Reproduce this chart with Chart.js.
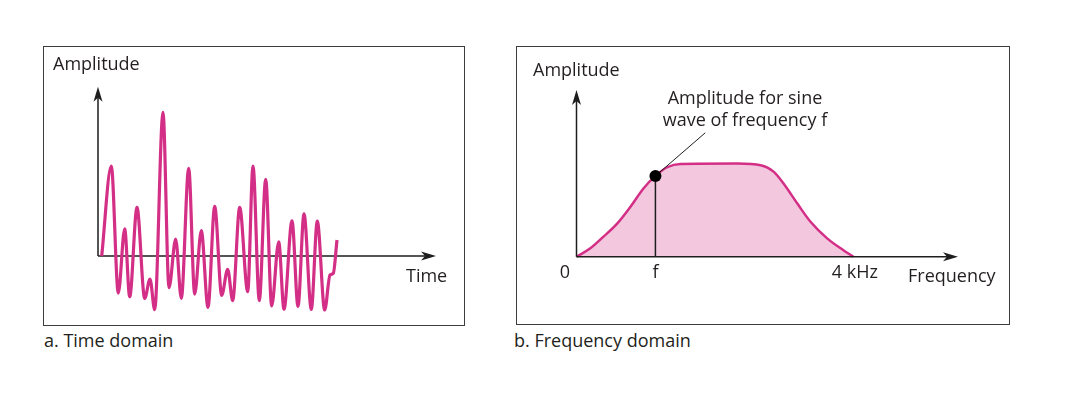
<!DOCTYPE html>
<html>
<head>
<meta charset="utf-8">
<script src="https://cdn.jsdelivr.net/npm/chart.js@4.4.1/dist/chart.umd.min.js"></script>
<style>
  html, body { margin: 0; padding: 0; background: #fff; }
  body { width: 1070px; height: 396px; position: relative; overflow: hidden;
         font-family: "Open Sans", sans-serif; color: #231f20; }
  .box { position: absolute; border: 1.5px solid #3d3d3d; box-sizing: border-box; }
  canvas { position: absolute; }
  .lbl { position: absolute; font-size: 18px; line-height: 20px; white-space: nowrap; }
  .tick { position: absolute; font-size: 18px; line-height: 20px; white-space: nowrap; transform: translateX(-50%); }
  .note { position: absolute; font-size: 18px; line-height: 22.4px; text-align: center; white-space: nowrap; transform: translateX(-50%); }
</style>
</head>
<body>
<div class="box" style="left:43px;top:46px;width:422px;height:280px"></div>
<div class="box" style="left:516px;top:46px;width:494px;height:279px"></div>
<canvas id="time-chart" width="418" height="276" style="left:45px;top:48px"></canvas>
<canvas id="freq-chart" width="490" height="275" style="left:518px;top:48px"></canvas>

<div class="lbl" style="left:53px;top:53px">Amplitude</div>
<div class="lbl" style="left:406px;top:264.7px">Time</div>
<div class="lbl" style="left:44px;top:330px">a. Time domain</div>

<div class="lbl" style="left:533px;top:59px">Amplitude</div>
<div class="lbl" style="left:908px;top:264.7px">Frequency</div>
<div class="lbl" style="left:514px;top:330px">b. Frequency domain</div>
<div class="note" id="note" style="left:745px;top:86px">Amplitude for sine<br>wave of frequency f</div>
<div id="ticks"></div>

<script>
// time domain: extrema of the signal (time units, amplitude units)
const timeT = [0.37, 1.33, 2.03, 2.67, 3.17, 3.9, 4.67, 5.2, 5.67, 6.5, 7.1, 7.77, 8.33, 9.07, 9.67,
               10.33, 11.0, 11.67, 12.37, 12.97, 13.47, 14.17, 14.97, 15.5, 16.13, 16.77, 17.37,
               18.07, 18.6, 19.4, 20.0, 20.6, 21.33, 21.93, 22.67, 23.2, 23.53, 23.9];
const timeAmp = [0, 6.25, -2.57, 1.88, -2.83, 3.38, -2.94, -1.6, -3.73, 9.98, -2.2, 1.18, -2.94, 6.09, -2.64,
                 1.76, -3.56, 3.45, -2.73, -0.92, -3.1, 3.38, -2.48, 6.25, -3.1, 5.33, -3.47,
                 0.99, -3.7, 2.45, -3.5, 2.92, -3.7, 2.43, -3.75, -1.32, -1.2, 1.11];

// frequency domain: spectrum (kHz, relative amplitude)
const freqK = [0, 0.2, 0.39, 0.59, 0.78, 0.97, 1.14, 1.31, 1.5, 2.33, 2.66, 2.85, 2.99, 3.19, 3.38, 3.62, 3.85, 4];
const specAmp = [0, 0.09, 0.215, 0.358, 0.537, 0.735, 0.867, 0.96, 0.996, 1.0, 0.982, 0.91, 0.785, 0.57, 0.375, 0.197, 0.072, 0];

// marked frequency f and the note it points to
const fVal = 1.14;
const fAmp = 0.867;
const noteAt = [1.86, 1.33];

// tick labels on the frequency axis
const tickVals = [0, fVal, 4];
const tickText = ['0', 'f', '4 kHz'];

const MAGENTA = '#d42f86';
const PINK = '#f3c8df';
const INK = '#1e1e1e';

const toPoints = (xs, ys) => xs.map((x, i) => ({ x: x, y: ys[i] }));

// arrowhead with a notched back, tip at (x,y), pointing at angle a
function arrowHead(ctx, x, y, a) {
   ctx.save();
   ctx.translate(x, y);
   ctx.rotate(a);
   ctx.beginPath();
   ctx.moveTo(0, 0);
   ctx.lineTo(-15, -4.5);
   ctx.lineTo(-11, 0);
   ctx.lineTo(-15, 4.5);
   ctx.closePath();
   ctx.fillStyle = INK;
   ctx.fill();
   ctx.restore();
}

function drawAxes(chart) {
   const ctx = chart.ctx;
   const xs = chart.scales.x, ys = chart.scales.y;
   const x0 = xs.getPixelForValue(0), y0 = ys.getPixelForValue(0);
   const xEnd = xs.getPixelForValue(xs.max), yEnd = ys.getPixelForValue(ys.max);
   ctx.save();
   ctx.strokeStyle = INK;
   ctx.lineWidth = 1.5;
   ctx.beginPath();
   ctx.moveTo(x0, y0);
   ctx.lineTo(xEnd - 11, y0);
   ctx.moveTo(x0, y0);
   ctx.lineTo(x0, yEnd + 11);
   ctx.stroke();
   arrowHead(ctx, xEnd, y0, 0);
   arrowHead(ctx, x0, yEnd, -Math.PI / 2);
   ctx.restore();
}

const axisArrows = {
   id: 'axisArrows',
   beforeDatasetsDraw(chart, args, opts) { if (!opts.onTop) drawAxes(chart); },
   afterDatasetsDraw(chart, args, opts) { if (opts.onTop) drawAxes(chart); }
};

const hiddenScales = (xmin, xmax, ymin, ymax) => ({
   x: { type: 'linear', display: false, min: xmin, max: xmax },
   y: { type: 'linear', display: false, min: ymin, max: ymax }
});

const basePlugins = { legend: { display: false }, tooltip: { enabled: false } };

//wykres w dziedzinie czasu
const timeChart = new Chart(document.getElementById('time-chart'), {
   type: 'line',
   data: {
      datasets: [{
         data: toPoints(timeT, timeAmp),
         borderColor: MAGENTA,
         borderWidth: 3.2,
         pointRadius: 0,
         cubicInterpolationMode: 'monotone',
         fill: false,
         clip: false
      }]
   },
   options: {
      responsive: false,
      animation: false,
      layout: { padding: { left: 53, right: 27, top: 38.8, bottom: 7.5 } },
      scales: hiddenScales(0, 33.8, -4.2, 11.75),
      plugins: Object.assign({ axisArrows: { onTop: false } }, basePlugins)
   },
   plugins: [axisArrows]
});

//wykres w dziedzinie częstotliwości
const freqChart = new Chart(document.getElementById('freq-chart'), {
   type: 'line',
   data: {
      datasets: [
         {
            data: [{ x: fVal, y: fAmp }],
            pointRadius: 6,
            pointBackgroundColor: '#000',
            pointBorderWidth: 0,
            showLine: false,
            order: 0,
            clip: false
         },
         {
            data: [{ x: fVal, y: 0 }, { x: fVal, y: fAmp }],
            borderColor: INK,
            borderWidth: 1.5,
            pointRadius: 0,
            order: 1,
            clip: false
         },
         {
            data: [{ x: fVal, y: fAmp }, { x: noteAt[0], y: noteAt[1] }],
            borderColor: INK,
            borderWidth: 1,
            pointRadius: 0,
            order: 1,
            clip: false
         },
         {
            data: toPoints(freqK, specAmp),
            borderColor: MAGENTA,
            borderWidth: 2.5,
            backgroundColor: PINK,
            fill: 'origin',
            pointRadius: 0,
            cubicInterpolationMode: 'monotone',
            order: 2,
            clip: false
         }
      ]
   },
   options: {
      responsive: false,
      animation: false,
      layout: { padding: { left: 58.5, right: 50, top: 42, bottom: 66.3 } },
      scales: hiddenScales(0, 5.51, 0, 1.789),
      plugins: Object.assign({ axisArrows: { onTop: true } }, basePlugins)
   },
   plugins: [axisArrows]
});

// tick labels under the frequency axis, placed through the x scale
const ticksDiv = document.getElementById('ticks');
const canvasLeft = 518;
const tickShift = [-11.5, 0, 1.5];
tickVals.forEach((v, i) => {
   const d = document.createElement('div');
   d.className = 'tick';
   d.textContent = tickText[i];
   d.style.left = (canvasLeft + freqChart.scales.x.getPixelForValue(v) + tickShift[i]) + 'px';
   d.style.top = '261px';
   ticksDiv.appendChild(d);
});
</script>
</body>
</html>
